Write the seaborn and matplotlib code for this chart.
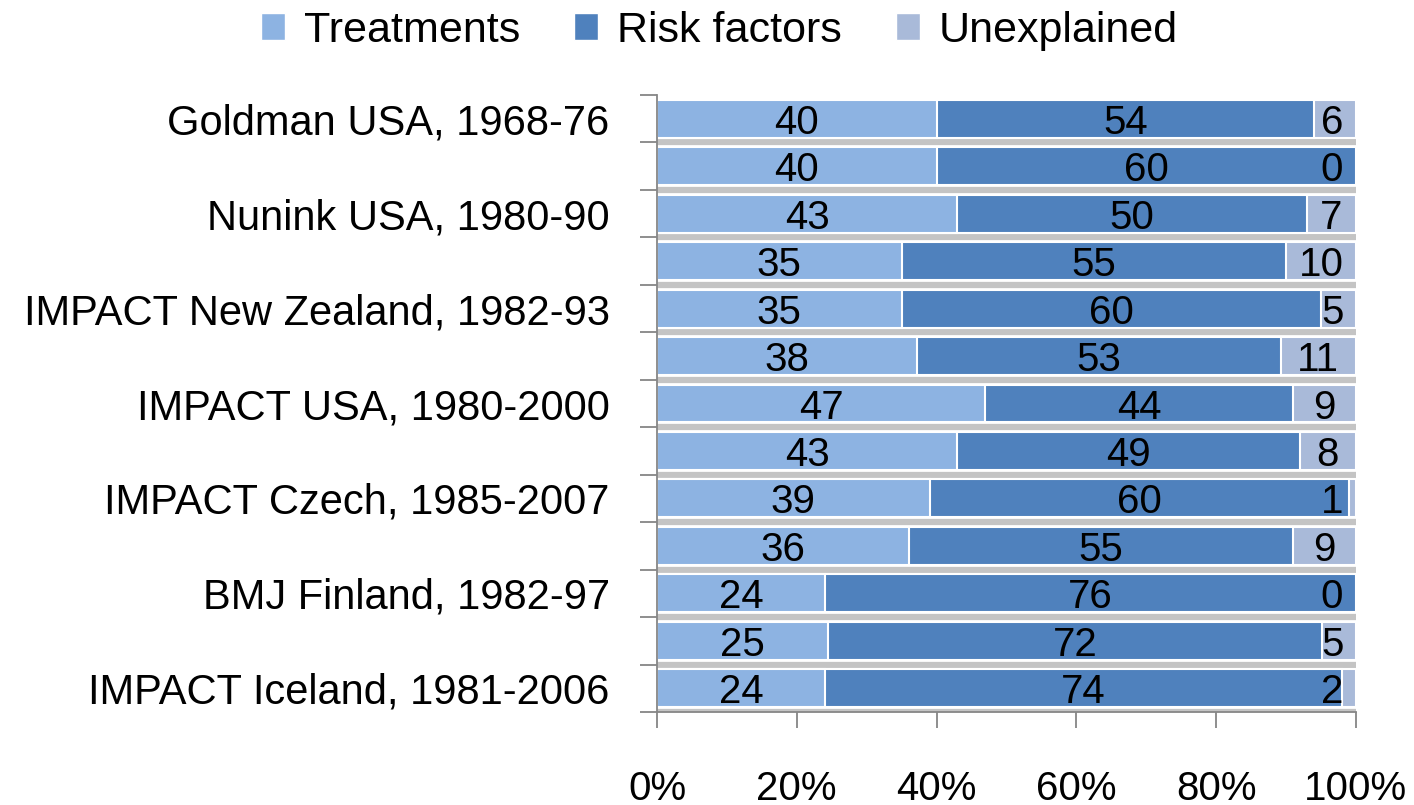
import matplotlib
matplotlib.use("Agg")
import matplotlib.pyplot as plt
import matplotlib.patches as mpatches
import matplotlib.transforms as mtransforms
import numpy as np
import pandas as pd
import seaborn as sns

# ---- data -------------------------------------------------------------
labels = ["Goldman USA, 1968-76", "", "Nunink USA, 1980-90", "",
          "IMPACT New Zealand, 1982-93", "", "IMPACT USA, 1980-2000", "",
          "IMPACT Czech, 1985-2007", "", "BMJ Finland, 1982-97", "",
          "IMPACT Iceland, 1981-2006"]
treatments = [40, 40, 43, 35, 35, 38, 47, 43, 39, 36, 24, 25, 24]
risk_factors = [54, 60, 50, 55, 60, 53, 44, 49, 60, 55, 76, 72, 74]
unexplained = [6, 0, 7, 10, 5, 11, 9, 8, 1, 9, 0, 5, 2]
series = ["Treatments", "Risk factors", "Unexplained"]
colors = ["#8DB3E2", "#4F81BD", "#A9BAD9"]
xticks = [0, 20, 40, 60, 80, 100]

# ---- prepare ----------------------------------------------------------
ids = [f"r{i}" for i in range(len(labels))]
t = np.array(treatments, float)
r = np.array(risk_factors, float)
u = np.array(unexplained, float)
tot = t + r + u
pt, pr, pu = t / tot * 100, r / tot * 100, u / tot * 100
df = pd.DataFrame({"id": ids, "c1": pt, "c2": pt + pr, "c3": pt + pr + pu})

sns.set_theme(style="white")
plt.rcParams["font.family"] = ["Liberation Sans", "DejaVu Sans"]
FS_Y = 30
FS_X = 29
FS_BAR = 29
FS_LEG = 31

fig = plt.figure(figsize=(14.14, 8.05), dpi=100)
ax = fig.add_axes([0.4646, 0.1155, 0.4943, 0.7665])

for col, c in zip(["c3", "c2", "c1"], colors[::-1]):
    sns.barplot(data=df, x=col, y="id", order=ids, orient="h", color=c,
                width=0.8, edgecolor="white", linewidth=1.5, ax=ax,
                saturation=1)

ax.set_xlim(0, 100)
ax.set_ylim(len(ids) - 0.5, -0.5)
ax.set_xlabel("")
ax.set_ylabel("")

# y axis: ticks on category boundaries, labels at centres
bounds = np.arange(len(ids) + 1) - 0.5
ax.set_yticks(bounds)
ax.set_yticklabels([])
ax.set_yticks(np.arange(len(ids)), minor=True)
ax.set_yticklabels(labels, minor=True, fontsize=FS_Y, color="black")
ax.tick_params(axis="y", which="major", length=12, width=1.3,
               color="#868686", direction="out", left=True)
ax.tick_params(axis="y", which="minor", length=0, pad=34)

ax.set_xticks(xticks)
ax.set_xticklabels([f"{v}%" for v in xticks], fontsize=FS_X, color="black")
ax.tick_params(axis="x", which="major", length=11.5, width=1.3,
               color="#868686", direction="out", bottom=True, pad=30)

# grey bands between bars (3D floor effect)
ax.set_axisbelow(True)
ax.grid(axis="y", which="major", color="#c4c4c4", linewidth=4.5)
ax.grid(axis="x", visible=False)
ax.get_ygridlines()[0].set_visible(False)

for s in ["top", "right"]:
    ax.spines[s].set_visible(False)
for s in ["left", "bottom"]:
    ax.spines[s].set_color("#868686")
    ax.spines[s].set_linewidth(1.3)

# data labels (digits sit slightly low in the bar, as in the original)
trans = mtransforms.offset_copy(ax.transData, fig=fig, x=0, y=-15, units="dots")
for i in range(len(ids)):
    ax.text(pt[i] / 2, i, f"{treatments[i]}", ha="center", va="baseline",
            fontsize=FS_BAR, color="black", transform=trans)
    ax.text(pt[i] + pr[i] / 2, i, f"{risk_factors[i]}", ha="center",
            va="baseline", fontsize=FS_BAR, color="black", transform=trans)
    txt = f"{unexplained[i]}"
    xc = pt[i] + pr[i] + pu[i] / 2
    xc = min(xc, 98.2 - 1.6 * len(txt))
    ax.text(xc, i, txt, ha="center", va="baseline", fontsize=FS_BAR,
            color="black", transform=trans)

handles = [mpatches.Patch(facecolor=c, edgecolor="white", label=s)
           for s, c in zip(series, colors)]
fig.legend(handles=handles, loc="upper center", bbox_to_anchor=(0.509, 1.035),
           ncol=3, frameon=False, fontsize=FS_LEG, handlelength=0.55,
           handleheight=0.6, handletextpad=0.45, columnspacing=1.25,
           labelcolor="black")

fig.savefig("out.png", dpi=100)
